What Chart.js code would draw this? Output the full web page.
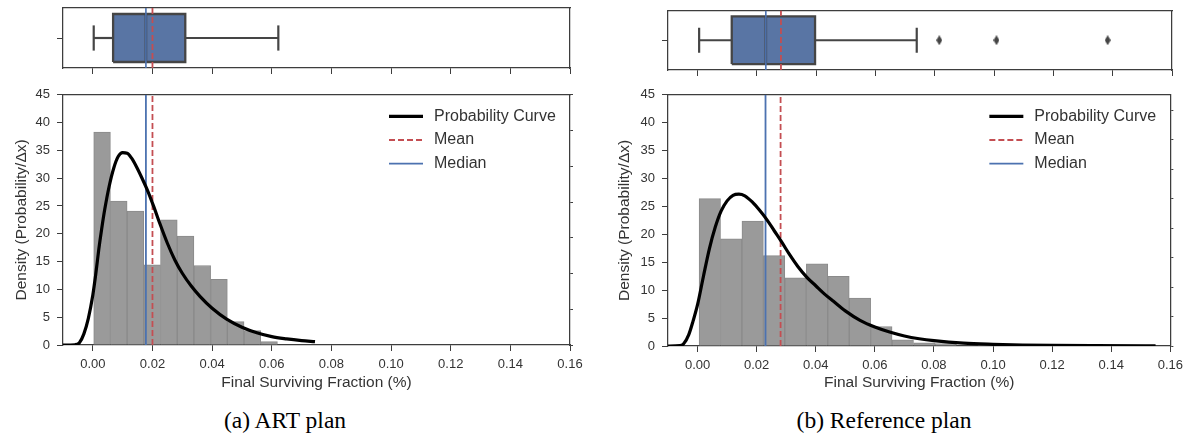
<!DOCTYPE html>
<html>
<head>
<meta charset="utf-8">
<script src="https://cdn.jsdelivr.net/npm/chart.js@4.4.1/dist/chart.umd.min.js"></script>
<style>
  body { margin: 0; background: #fff; }
  #wrap { position: relative; width: 1189px; height: 440px; overflow: hidden; background: #fff; }
  canvas { position: absolute; }
  .caption { position: absolute; top: 407px; width: 400px; line-height: 28px; text-align: center;
             font: 23.5px 'Liberation Serif', 'Times New Roman', serif; color: #000; }
</style>
</head>
<body>
<div id="wrap">
  <canvas id="boxA" width="600" height="80" style="left:0;top:0"></canvas>
  <canvas id="histA" width="600" height="320" style="left:0;top:80px"></canvas>
  <canvas id="boxB" width="589" height="80" style="left:600px;top:0"></canvas>
  <canvas id="histB" width="589" height="320" style="left:600px;top:80px"></canvas>
  <div class="caption" style="left:85px">(a) ART plan</div>
  <div class="caption" style="left:684px">(b) Reference plan</div>
</div>
<script>
// shared x ticks
const xTicks = [0, 0.02, 0.04, 0.06, 0.08, 0.10, 0.12, 0.14, 0.16];
const yTicks = [0, 5, 10, 15, 20, 25, 30, 35, 40, 45];

// (a) ART plan
const artBinEdges = [0.0003, 0.0059, 0.0115, 0.0171, 0.0227, 0.0283, 0.0339, 0.0395, 0.0451, 0.0507, 0.0563, 0.0619];
const artDensity = [38.3, 25.9, 24.1, 14.4, 22.5, 19.6, 14.3, 11.8, 4.2, 2.6, 0.6];
const artCurveX = [-0.0100, -0.0060, -0.0045, -0.0030, -0.0015, 0.0000, 0.0010, 0.0020, 0.0030, 0.0040, 0.0055, 0.0070, 0.0085, 0.0100, 0.0115, 0.0130, 0.0145, 0.0165, 0.0185, 0.0205, 0.0225, 0.0250, 0.0275, 0.0300, 0.0330, 0.0360, 0.0400, 0.0450, 0.0500, 0.0550, 0.0600, 0.0650, 0.0700, 0.0745];
const artCurveY = [0, 0.05, 0.4, 2.0, 4.8, 9.0, 12.8, 17.2, 21.0, 24.4, 28.6, 31.8, 33.9, 34.6, 34.5, 33.6, 32.2, 30.0, 27.6, 24.8, 21.8, 18.3, 15.3, 12.9, 10.6, 8.7, 6.6, 4.6, 3.2, 2.2, 1.5, 1.1, 0.8, 0.6];
const artBox = [0.0003, 0.0068, 0.0178, 0.0310, 0.0622]; // min, q1, median, q3, max
const artMean = 0.0200;
const artOutliers = [];

// (b) Reference plan
const refBinEdges = [0.0005, 0.0078, 0.0150, 0.0223, 0.0295, 0.0368, 0.0441, 0.0513, 0.0586, 0.0658, 0.0731, 0.0804, 0.0876, 0.0949, 0.1021];
const refDensity = [26.4, 19.2, 22.4, 16.2, 12.2, 14.7, 12.5, 8.6, 3.5, 1.1, 0.55, 0.45, 0, 0.45];
const refCurveX = [-0.0100, -0.0060, -0.0047, -0.0030, -0.0015, 0.0000, 0.0020, 0.0040, 0.0060, 0.0080, 0.0100, 0.0120, 0.0140, 0.0160, 0.0185, 0.0210, 0.0235, 0.0260, 0.0285, 0.0310, 0.0340, 0.0370, 0.0400, 0.0430, 0.0460, 0.0500, 0.0550, 0.0600, 0.0650, 0.0700, 0.0750, 0.0800, 0.0900, 0.1000, 0.1100, 0.1200, 0.1350, 0.1550];
const refCurveY = [0, 0.05, 0.4, 2.0, 4.5, 7.4, 12.5, 17.4, 21.3, 24.2, 26.0, 27.0, 27.2, 26.9, 25.8, 24.3, 22.6, 20.6, 18.6, 16.5, 14.2, 12.3, 10.8, 9.3, 8.0, 6.3, 4.6, 3.4, 2.5, 1.8, 1.3, 0.95, 0.5, 0.3, 0.18, 0.1, 0.05, 0.02];
const refBox = [0.0005, 0.0115, 0.0230, 0.0396, 0.0739];
const refMean = 0.0281;
const refOutliers = [0.0815, 0.1008, 0.1383];

const FONT = "'Liberation Sans', Arial, sans-serif";
const TEXT = '#333333';
const AXIS = '#3d3d3d';
const RED = '#c44e52';
const BLUE = '#4c72b0';
const BOXBLUE = '#5975a4';
const LINEGRAY = '#454545';

// thin diamond marker for outliers
const diamond = document.createElement('canvas');
diamond.width = 6; diamond.height = 10;
(function () {
    const c = diamond.getContext('2d');
    c.fillStyle = LINEGRAY;
    c.beginPath();
    c.moveTo(3, 0); c.lineTo(6, 5); c.lineTo(3, 10); c.lineTo(0, 5);
    c.closePath();
    c.fill();
})();

// legend drawn inside the plot, upper right
const insideLegend = {
    id: 'insideLegend',
    afterDatasetsDraw(chart) {
        const { ctx, chartArea } = chart;
        const items = chart.data.datasets.filter(d => d.inLegend);
        ctx.save();
        ctx.font = '16px ' + FONT;
        ctx.textBaseline = 'middle';
        ctx.fillStyle = TEXT;
        items.forEach((d, i) => {
            const y = chartArea.top + 21.5 + i * 23.7;
            const x0 = chartArea.right - 181;
            ctx.strokeStyle = d.borderColor;
            ctx.lineWidth = d.borderWidth;
            ctx.setLineDash(d.borderDash || []);
            ctx.beginPath();
            ctx.moveTo(x0, y);
            ctx.lineTo(x0 + 34, y);
            ctx.stroke();
            ctx.setLineDash([]);
            ctx.fillText(d.label, chartArea.right - 136, y);
        });
        ctx.restore();
    }
};

function frameAxis(position, min, max, size) {
    return {
        type: 'linear', position: position, min: min, max: max,
        ticks: { display: false },
        grid: { display: false, drawTicks: false },
        border: { display: true, color: AXIS, width: 1.25 },
        afterFit: s => { if (s.isHorizontal()) s.height = size; else s.width = size; }
    };
}

function histChart(id, edges, dens, cx, cy, mean, median, rightMax, pad) {
    const centers = dens.map((d, i) => (edges[i] + edges[i + 1]) / 2);
    return new Chart(document.getElementById(id), {
        type: 'bar',
        data: {
            datasets: [
                { type: 'line', label: 'Probability Curve', inLegend: true, data: cx.map((x, i) => ({ x: x, y: cy[i] })),
                  borderColor: '#000', borderWidth: 3.2, pointRadius: 0, cubicInterpolationMode: 'monotone', order: 0 },
                { type: 'line', label: 'Mean', inLegend: true, data: [{ x: mean, y: 0 }, { x: mean, y: 45 }],
                  borderColor: RED, borderWidth: 1.8, borderDash: [6, 3], pointRadius: 0, order: 1 },
                { type: 'line', label: 'Median', inLegend: true, data: [{ x: median, y: 0 }, { x: median, y: 45 }],
                  borderColor: BLUE, borderWidth: 1.8, pointRadius: 0, order: 2 },
                { type: 'bar', label: 'hist', data: centers.map((c, i) => ({ x: c, y: dens[i] })),
                  backgroundColor: '#9a9a9a', borderColor: '#8a8a8a', borderWidth: 1,
                  barPercentage: 1, categoryPercentage: 1, grouped: false, order: 3 }
            ]
        },
        options: {
            responsive: false, animation: false, events: [],
            layout: { padding: { top: pad.top, left: 0, right: 0, bottom: 0 } },
            plugins: { legend: { display: false }, tooltip: { enabled: false } },
            scales: {
                x: {
                    type: 'linear', position: 'bottom', min: -0.01, max: 0.16, offset: false,
                    afterBuildTicks: s => { s.ticks = xTicks.map(v => ({ value: v })); },
                    ticks: { callback: v => v.toFixed(2), color: TEXT, font: { size: 13, family: FONT }, padding: 6, maxRotation: 0, autoSkip: false },
                    grid: { drawOnChartArea: false, drawTicks: true, tickLength: 6, color: AXIS, offset: false },
                    border: { display: true, color: AXIS, width: 1.25 },
                    title: { display: true, text: 'Final Surviving Fraction (%)', color: TEXT, font: { size: 15.5, family: FONT }, padding: { top: 0, bottom: 8 } },
                    afterFit: s => { s.height = pad.bottom; }
                },
                y: {
                    type: 'linear', position: 'left', min: 0, max: 45,
                    afterBuildTicks: s => { s.ticks = yTicks.map(v => ({ value: v })); },
                    ticks: { color: TEXT, font: { size: 13, family: FONT }, padding: 7 },
                    grid: { drawOnChartArea: false, drawTicks: true, tickLength: 6, color: AXIS },
                    border: { display: true, color: AXIS, width: 1.25 },
                    title: { display: true, text: 'Density (Probability/\u0394x)', color: TEXT, font: { size: 15.5, family: FONT }, padding: { top: pad.title, bottom: 0 } },
                    afterFit: s => { s.width = pad.left; }
                },
                xTop: frameAxis('top', -0.01, 0.16, 0),
                yR: {
                    type: 'linear', position: 'right', min: 0, max: rightMax,
                    ticks: { display: false, stepSize: 1, includeBounds: false },
                    grid: { drawOnChartArea: false, drawTicks: true, tickLength: 3, color: AXIS },
                    border: { display: true, color: AXIS, width: 1.25 },
                    afterFit: s => { s.width = pad.right; }
                }
            }
        },
        plugins: [insideLegend]
    });
}

function boxChart(id, stats, mean, outliers, pad) {
    const [mn, q1, med, q3, mx] = stats;
    const seg = (pts, color, width, order, extra) => Object.assign({
        data: pts.map(p => ({ x: p[0], y: p[1] })), showLine: true, pointRadius: 0,
        borderColor: color, borderWidth: width, order: order
    }, extra || {});
    return new Chart(document.getElementById(id), {
        type: 'scatter',
        data: {
            datasets: [
                seg([[q1, 0.4], [q3, 0.4]], BOXBLUE, 0, 9, { fill: { value: -0.4 }, backgroundColor: BOXBLUE }),
                seg([[mn, 0], [q1, 0]], LINEGRAY, 2.2, 5),
                seg([[q3, 0], [mx, 0]], LINEGRAY, 2.2, 5),
                seg([[mn, -0.21], [mn, 0.21]], LINEGRAY, 2.2, 5),
                seg([[mx, -0.21], [mx, 0.21]], LINEGRAY, 2.2, 5),
                seg([[q1, -0.4], [q3, -0.4], [q3, 0.4], [q1, 0.4], [q1, -0.4]], LINEGRAY, 2.3, 5),
                seg([[med, -0.4], [med, 0.4]], LINEGRAY, 2.6, 4),
                seg([[med, -0.5], [med, 0.5]], BLUE, 1.6, 2),
                seg([[mean, -0.5], [mean, 0.5]], RED, 1.8, 1, { borderDash: [6, 3] }),
                { data: outliers.map(v => ({ x: v, y: 0 })), pointStyle: diamond, pointRadius: 5, showLine: false, order: 0 }
            ]
        },
        options: {
            responsive: false, animation: false, events: [],
            layout: { padding: { top: pad.top, left: 0, right: 0, bottom: 0 } },
            plugins: { legend: { display: false }, tooltip: { enabled: false } },
            scales: {
                x: {
                    type: 'linear', position: 'bottom', min: -0.01, max: 0.16,
                    afterBuildTicks: s => { s.ticks = xTicks.map(v => ({ value: v })); },
                    ticks: { display: false },
                    grid: { drawOnChartArea: false, drawTicks: true, tickLength: 6, color: AXIS },
                    border: { display: true, color: AXIS, width: 1.25 },
                    afterFit: s => { s.height = pad.bottom; }
                },
                y: {
                    type: 'linear', position: 'left', min: -0.5, max: 0.5,
                    afterBuildTicks: s => { s.ticks = [{ value: 0 }]; },
                    ticks: { display: false },
                    grid: { drawOnChartArea: false, drawTicks: true, tickLength: 6, color: AXIS },
                    border: { display: true, color: AXIS, width: 1.25 },
                    afterFit: s => { s.width = pad.left; }
                },
                xTop: frameAxis('top', -0.01, 0.16, 0),
                yR: frameAxis('right', -0.5, 0.5, pad.right)
            }
        }
    });
}

boxChart('boxA', artBox, artMean, artOutliers, { top: 8, bottom: 12, left: 63, right: 30 });
histChart('histA', artBinEdges, artDensity, artCurveX, artCurveY, artMean, artBox[2], 7, { top: 10, bottom: 55, left: 63, right: 30, title: 12 });
boxChart('boxB', refBox, refMean, refOutliers, { top: 10.5, bottom: 10, left: 68, right: 17 });
histChart('histB', refBinEdges, refDensity, refCurveX, refCurveY, refMean, refBox[2], 8.53, { top: 11, bottom: 54, left: 68, right: 17, title: 15 });
</script>
</body>
</html>
